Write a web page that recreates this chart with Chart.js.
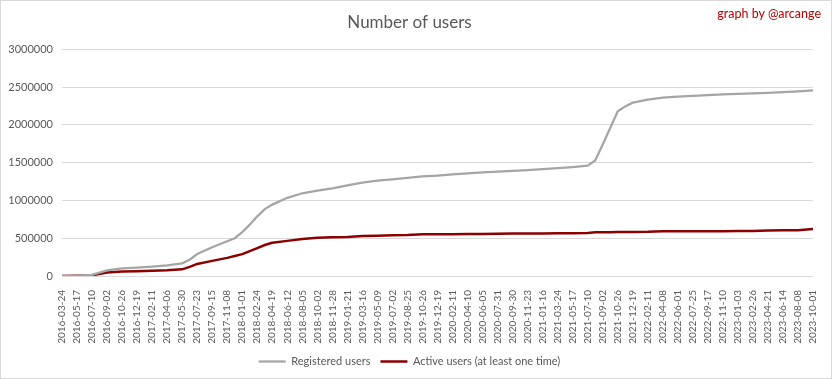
<!DOCTYPE html>
<html>
<head>
<meta charset="utf-8">
<script src="https://cdn.jsdelivr.net/npm/chart.js@4.4.1/dist/chart.umd.min.js"></script>
<style>
  html, body { margin: 0; padding: 0; background: #ffffff; }
  #wrap { position: relative; width: 832px; height: 379px; box-sizing: border-box; border: 1px solid #d9d9d9; background: #fff; }
  #wrap canvas { display: block; }
  #credit { position: absolute; right: 10px; top: 5px; font-family: Lato, "Liberation Sans", sans-serif; font-size: 12.5px; color: #c00000; }
</style>
</head>
<body>
<div id="wrap">
  <canvas id="c" width="830" height="377"></canvas>
  <div id="credit">graph by @arcange</div>
</div>
<script>
// Tick labels (every 54th date on the category axis)
const tickLabels = [
  "2016-03-24","2016-05-17","2016-07-10","2016-09-02","2016-10-26","2016-12-19",
  "2017-02-11","2017-04-06","2017-05-30","2017-07-23","2017-09-15","2017-11-08",
  "2018-01-01","2018-02-24","2018-04-19","2018-06-12","2018-08-05","2018-10-02",
  "2018-11-28","2019-01-21","2019-03-16","2019-05-09","2019-07-02","2019-08-25",
  "2019-10-26","2019-12-19","2020-02-11","2020-04-10","2020-06-05","2020-07-31",
  "2020-09-30","2020-11-23","2021-01-16","2021-03-24","2021-05-17","2021-07-10",
  "2021-09-02","2021-10-26","2021-12-19","2022-02-11","2022-04-08","2022-06-01",
  "2022-07-25","2022-09-17","2022-11-10","2023-01-03","2023-02-26","2023-04-21",
  "2023-06-14","2023-08-08","2023-10-01"
];

// Sample positions, in tick-label units
const samplePos = [
  0,1,2,3,4,5,6,7,8,8.5,9,10,11,11.5,12,12.5,13,13.5,14,15,16,17,18,19,20,
  21,22,23,24,25,26,27,28,29,30,31,32,33,34,35,35.5,36,36.5,37,37.5,38,
  39,40,41,42,43,44,45,46,47,48,49,50
];

const registeredUsers = [
  0,5000,15000,75000,102000,112000,124000,142000,168000,215000,290000,380000,460000,500000,580000,680000,790000,885000,945000,1035000,1095000,1130000,1160000,1200000,1235000,
  1262000,1280000,1298000,1318000,1330000,1345000,1360000,1372000,1383000,1393000,1402000,1415000,1428000,1442000,1460000,1530000,1740000,1960000,2180000,2245000,2295000,
  2336000,2360000,2375000,2385000,2395000,2404000,2410000,2417000,2425000,2434000,2445000,2456000
];

const activeUsers = [
  0,3000,10000,45000,58000,62000,68000,75000,88000,120000,160000,200000,240000,265000,290000,330000,370000,410000,440000,465000,490000,505000,512000,515000,528000,
  532000,540000,542000,552000,553000,553000,555000,555000,560000,562000,562000,563000,565000,567000,570000,578000,580000,580000,582000,582000,583000,
  585000,592000,593000,593000,594000,594000,595000,595000,603000,605000,607000,622000
];

const seriesNames = ["Registered users", "Active users (at least one time)"];
const seriesColors = ["#a5a5a5", "#8b0000"];

const toPoints = (vals) => samplePos.map((x, i) => ({ x: x, y: vals[i] }));

const FONT = 'Lato, "Liberation Sans", sans-serif';
const TXT = '#595959';
const GRID = '#d9d9d9';

new Chart(document.getElementById('c'), {
  type: 'line',
  data: {
    datasets: [
      { label: seriesNames[0], data: toPoints(registeredUsers), borderColor: seriesColors[0], backgroundColor: seriesColors[0], borderWidth: 2.25, pointRadius: 0, tension: 0, fill: false },
      { label: seriesNames[1], data: toPoints(activeUsers), borderColor: seriesColors[1], backgroundColor: seriesColors[1], borderWidth: 2.5, pointRadius: 0, tension: 0, fill: false }
    ]
  },
  options: {
    responsive: false,
    animation: false,
    layout: { padding: { left: 0, right: 13, top: 0, bottom: 1 } },
    plugins: {
      title: {
        display: true, text: 'Number of users', color: TXT,
        font: { family: FONT, size: 17, weight: 'normal' },
        padding: { top: 11, bottom: 17 }
      },
      legend: {
        position: 'bottom',
        labels: {
          color: TXT, font: { family: FONT, size: 11 },
          usePointStyle: true, pointStyle: 'line', pointStyleWidth: 27,
          boxHeight: 11, padding: 10
        }
      },
      tooltip: { enabled: false }
    },
    scales: {
      x: {
        type: 'linear', min: 0, max: tickLabels.length - 1,
        grid: { display: false },
        border: { display: false },
        afterFit: (s) => { s.height = 70; },
        afterBuildTicks: (s) => { s.ticks = tickLabels.map((_, i) => ({ value: i })); },
        ticks: {
          autoSkip: false, maxRotation: 90, minRotation: 90, padding: 6,
          color: TXT, font: { family: FONT, size: 10 },
          callback: (v) => tickLabels[v]
        }
      },
      y: {
        min: 0, max: 3000000,
        grid: { color: GRID, lineWidth: 1, drawTicks: false },
        border: { display: false },
        afterFit: (s) => { s.width = 61; },
        ticks: {
          stepSize: 500000, padding: 9, color: TXT,
          font: { family: FONT, size: 11 },
          callback: (v) => String(v)
        }
      }
    }
  }
});
</script>
</body>
</html>
